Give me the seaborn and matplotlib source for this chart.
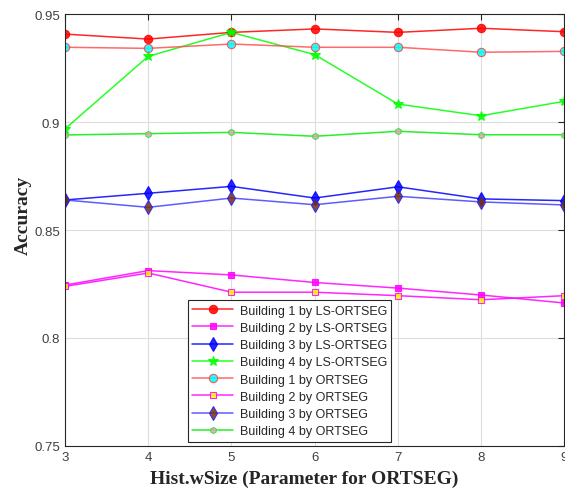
import numpy as np
import pandas as pd
import seaborn as sns
import matplotlib.pyplot as plt

wsize = [3, 4, 5, 6, 7, 8, 9]

b1_ls = [0.9407, 0.9384, 0.9415, 0.9431, 0.9415, 0.9434, 0.9418]
b2_ls = [0.8245, 0.8312, 0.8292, 0.8257, 0.8231, 0.8199, 0.8162]
b3_ls = [0.8639, 0.8670, 0.8702, 0.8648, 0.8700, 0.8644, 0.8636]
b4_ls = [0.8968, 0.9304, 0.9415, 0.9312, 0.9083, 0.9029, 0.9096]

b1_ort = [0.9346, 0.9341, 0.9361, 0.9346, 0.9346, 0.9323, 0.9327]
b2_ort = [0.8239, 0.8301, 0.8212, 0.8212, 0.8196, 0.8177, 0.8196]
b3_ort = [0.8639, 0.8605, 0.8648, 0.8617, 0.8656, 0.8630, 0.8616]
b4_ort = [0.8940, 0.8946, 0.8952, 0.8934, 0.8957, 0.8941, 0.8941]

sns.set_style("white")
plt.rcParams['font.family'] = ['Liberation Sans', 'DejaVu Sans']

fig = plt.figure(figsize=(5.65, 4.89), dpi=100)
ax = fig.add_axes([0.115, 0.0859, 0.884, 0.8834])

# (values, label, line colour, marker, size, face, edge)
series = [
    (b1_ls, 'Building 1 by LS-ORTSEG', '#ff0000', 'o', 6, '#ff0000', '#ff0000'),
    (b2_ls, 'Building 2 by LS-ORTSEG', '#ff00ff', 's', 5, '#ff00ff', '#ff00ff'),
    (b3_ls, 'Building 3 by LS-ORTSEG', '#0000ff', 'd', 7, '#0000ff', '#0000ff'),
    (b4_ls, 'Building 4 by LS-ORTSEG', '#00ff00', '*', 7.5, '#00ff00', '#00ff00'),
    (b1_ort, 'Building 1 by ORTSEG', '#ff5050', 'o', 6, '#00ffff', '#ff4040'),
    (b2_ort, 'Building 2 by ORTSEG', '#ff00ff', 's', 5, '#ffff00', '#ff00ff'),
    (b3_ort, 'Building 3 by ORTSEG', '#4040ff', 'd', 7, '#7a2e0a', '#2020ff'),
    (b4_ort, 'Building 4 by ORTSEG', '#00ee00', 'h', 4.5, '#e8a0c8', '#30e030'),
]

for vals, lab, col, mk, ms, fc, ec in series:
    sns.lineplot(x=wsize, y=vals, ax=ax, color=col, linewidth=1.1, alpha=0.85,
                 marker=mk, markersize=ms, markerfacecolor=fc,
                 markeredgecolor=ec, markeredgewidth=0.8, label=lab)

ax.set_xlim(3, 9)
ax.set_ylim(0.75, 0.95)
ax.set_xticks(wsize)
ax.set_yticks([0.75, 0.8, 0.85, 0.9, 0.95])
ax.set_yticklabels(['0.75', '0.8', '0.85', '0.9', '0.95'])
ax.grid(True, color='#dddddd', linewidth=0.8)
ax.tick_params(direction='in', length=4, labelsize=9.5, labelcolor='#404040',
               top=True, right=True, color='#262626')
for sp in ax.spines.values():
    sp.set_color('#262626')
    sp.set_linewidth(0.8)

ax.set_xlabel('Hist.wSize (Parameter for ORTSEG)', fontsize=14,
              fontweight='bold', family='Liberation Serif')
ax.set_ylabel('Accuracy', fontsize=14, fontweight='bold',
              family='Liberation Serif')
ax.xaxis.set_label_coords(0.478, -0.054)
ax.yaxis.set_label_coords(-0.066, 0.537)

leg = ax.legend(loc='lower left', bbox_to_anchor=(0.246, 0.01), fontsize=9,
                handlelength=3.3, frameon=True, fancybox=False, framealpha=1,
                edgecolor='#262626', borderpad=0.35, labelspacing=0.42,
                handletextpad=0.5, borderaxespad=0)
leg.get_frame().set_linewidth(0.8)

fig.savefig('out.png', dpi=100)
